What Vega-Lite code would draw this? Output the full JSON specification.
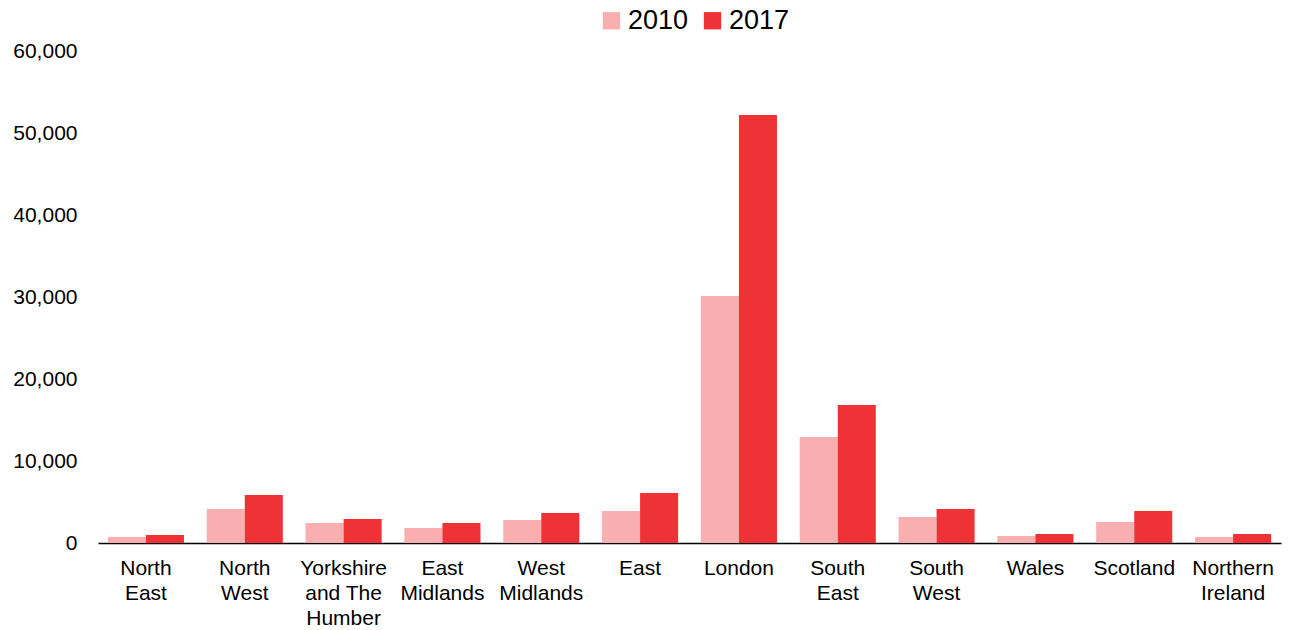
{
  "$schema": "https://vega.github.io/schema/vega-lite/v6.json",
  "autosize": {"type": "none"},
  "width": 1183,
  "height": 492,
  "padding": {"left": 98, "top": 51, "right": 10, "bottom": 87},
  "background": "white",
  "config": {"view": {"stroke": null}, "font": "Liberation Sans"},
  "data": {
    "values": [
      {"region": "North East", "year": "2010", "value": 730},
      {"region": "North East", "year": "2017", "value": 980},
      {"region": "North West", "year": "2010", "value": 4150},
      {"region": "North West", "year": "2017", "value": 5850},
      {"region": "Yorkshire and The Humber", "year": "2010", "value": 2440},
      {"region": "Yorkshire and The Humber", "year": "2017", "value": 2930},
      {"region": "East Midlands", "year": "2010", "value": 1830},
      {"region": "East Midlands", "year": "2017", "value": 2440},
      {"region": "West Midlands", "year": "2010", "value": 2800},
      {"region": "West Midlands", "year": "2017", "value": 3660},
      {"region": "East", "year": "2010", "value": 3900},
      {"region": "East", "year": "2017", "value": 6100},
      {"region": "London", "year": "2010", "value": 30120},
      {"region": "London", "year": "2017", "value": 52200},
      {"region": "South East", "year": "2010", "value": 12930},
      {"region": "South East", "year": "2017", "value": 16830},
      {"region": "South West", "year": "2010", "value": 3170},
      {"region": "South West", "year": "2017", "value": 4150},
      {"region": "Wales", "year": "2010", "value": 850},
      {"region": "Wales", "year": "2017", "value": 1100},
      {"region": "Scotland", "year": "2010", "value": 2560},
      {"region": "Scotland", "year": "2017", "value": 3900},
      {"region": "Northern Ireland", "year": "2010", "value": 730},
      {"region": "Northern Ireland", "year": "2017", "value": 1100}
    ]
  },
  "mark": {"type": "bar"},
  "encoding": {
    "x": {
      "field": "region",
      "type": "nominal",
      "sort": null,
      "scale": {"paddingInner": 0.23, "paddingOuter": 0.1},
      "axis": {
        "title": null,
        "labelAngle": 0,
        "labelFontSize": 21,
        "labelColor": "#000000",
        "labelPadding": 14,
        "labelLineHeight": 25,
        "labelBaseline": "top",
        "ticks": false,
        "domainColor": "#000000",
        "domainWidth": 1.5,
        "labelExpr": "datum.value == 'Yorkshire and The Humber' ? ['Yorkshire', 'and The', 'Humber'] : (indexof(datum.value, ' ') > 0 ? split(datum.value, ' ') : datum.value)"
      }
    },
    "xOffset": {"field": "year", "type": "nominal"},
    "y": {
      "field": "value",
      "type": "quantitative",
      "scale": {"domain": [0, 60000]},
      "axis": {
        "title": null,
        "values": [0, 10000, 20000, 30000, 40000, 50000, 60000],
        "format": ",.0f",
        "labelFontSize": 21,
        "labelColor": "#000000",
        "labelPadding": 21,
        "ticks": false,
        "domain": false,
        "grid": false
      }
    },
    "color": {
      "field": "year",
      "type": "nominal",
      "scale": {"domain": ["2010", "2017"], "range": ["#F9AFAF", "#EF3236"]},
      "legend": {
        "title": null,
        "orient": "none",
        "direction": "horizontal",
        "legendX": 500,
        "legendY": -44,
        "symbolType": "square",
        "symbolSize": 300,
        "symbolStrokeWidth": 0,
        "labelFontSize": 27,
        "labelColor": "#000000",
        "labelOffset": 3,
        "columnPadding": 10
      }
    }
  }
}
